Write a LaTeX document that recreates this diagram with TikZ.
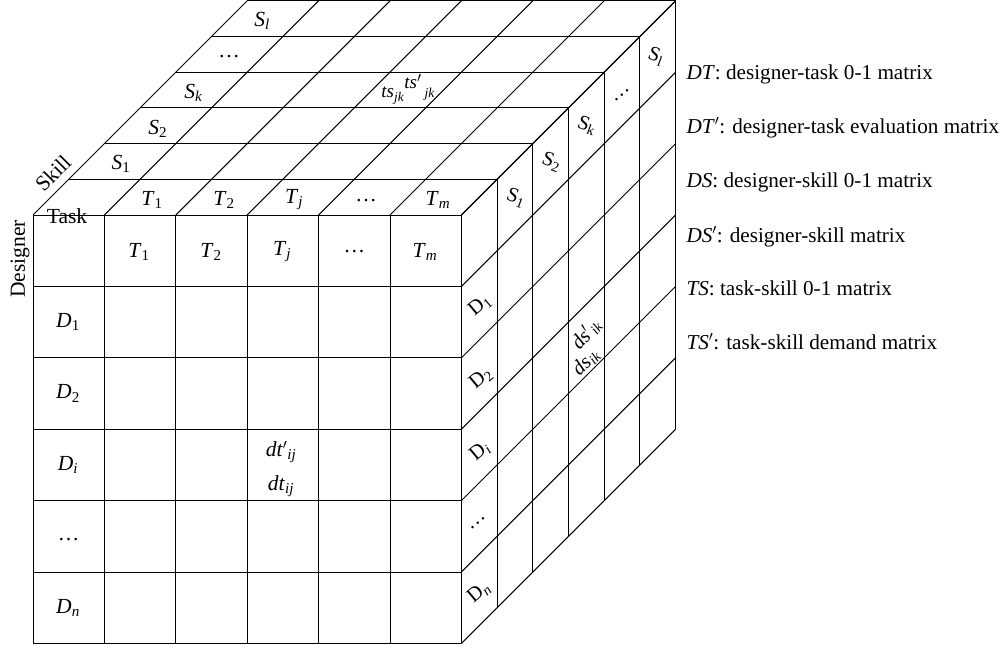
\documentclass[tikz,border=0pt]{standalone}
\usepackage{fontspec}
\setmainfont{Liberation Serif}
\newcommand\sub[1]{\textsubscript{#1}}
\begin{document}
\begin{tikzpicture}[x=1pt,y=-1pt,line width=1pt,
  lbl/.style={font=\fontsize{21.5}{25}\selectfont,inner sep=0pt},
  slbl/.style={font=\fontsize{20.5}{24}\selectfont,inner sep=0pt},
  leg/.style={font=\fontsize{21.2}{25}\selectfont,inner sep=0pt,anchor=base west}]
\useasboundingbox (0,0) rectangle (1007,648);
\pgfmathsetmacro\cellw{71.4}
\pgfmathsetmacro\depw{35.7}
% grid lines of the cube
\foreach \i in {0,...,6}{
  \draw (33+\i*\cellw,215) -- (33+\i*\cellw,643.4);
  \draw (33,215+\i*\cellw) -- (461.4,215+\i*\cellw);
  \draw (33+\i*\depw,215-\i*\depw) -- (461.4+\i*\depw,215-\i*\depw);
  \draw (33+\i*\cellw,215) -- ++(214.2,-214.2);
  \draw (461.4+\i*\depw,215-\i*\depw) -- (461.4+\i*\depw,643.4-\i*\depw);
  \draw (461.4,215+\i*\cellw) -- ++(214.2,-214.2);
}
% axis labels
\node[lbl,rotate=90] (designer) at (20,259) {Designer};
\node[lbl,rotate=45] (skill) at (53,173) {Skill};
\node[lbl] (task) at (67,216) {Task};
% front face header
\node[lbl] (ft1) at (139,252) {\textit{T}\sub{1}};
\node[lbl] (ft2) at (211,252) {\textit{T}\sub{2}};
\node[lbl] (ftj) at (282,252) {\textit{T}\sub{\textit{j}}};
\node[lbl] (ftd) at (354.3,252) {\dots};
\node[lbl] (ftm) at (425,252) {\textit{T}\sub{\textit{m}}};
% front face rows
\node[lbl] (d1) at (68,322.1) {\textit{D}\sub{1}};
\node[lbl] (d2) at (68,393.5) {\textit{D}\sub{2}};
\node[lbl] (di) at (68,464.9) {\textit{D}\sub{\textit{i}}};
\node[lbl] (dd) at (68.7,540) {\dots};
\node[lbl] (dn) at (68,607.7) {\textit{D}\sub{\textit{n}}};
\node[lbl] (dtp) at (281,452) {\textit{dt}$'$\sub{\textit{ij}}};
\node[lbl] (dt) at (281,486) {\textit{dt}\sub{\textit{ij}}};
% top face
\node[lbl] (tt1) at (152,200) {\textit{T}\sub{1}};
\node[lbl] (tt2) at (224,200) {\textit{T}\sub{2}};
\node[lbl] (ttj) at (294,200) {\textit{T}\sub{\textit{j}}};
\node[lbl] (ttd) at (366,201) {\dots};
\node[lbl] (ttm) at (438,200) {\textit{T}\sub{\textit{m}}};
\node[lbl] (ts1) at (121,164) {\textit{S}\sub{1}};
\node[lbl] (ts2) at (157.7,129) {\textit{S}\sub{2}};
\node[lbl] (tsk) at (193.4,93) {\textit{S}\sub{\textit{k}}};
\node[lbl] (tsd) at (229,57) {\dots};
\node[lbl] (tsl) at (262,21) {\textit{S}\sub{\textit{l}}};
\node[font=\fontsize{19}{22}\selectfont,inner sep=0pt] (tsjk) at (408,89)
  {\textit{ts}\sub{\textit{jk}}\raisebox{0.5em}{\textit{ts}$'$}\,{\fontsize{13.5}{15}\selectfont\textit{jk}}};
% right face
\node[slbl,rotate=-20] (rs1) at (516,198) {S\sub{1}};
\node[slbl,rotate=-20] (rs2) at (551.5,162) {S\sub{2}};
\node[slbl,rotate=-20] (rsk) at (587,125.5) {S\sub{k}};
\node[slbl,rotate=40] (rsd) at (622,95) {\dots};
\node[slbl,rotate=-20] (rsl) at (656,56) {S\sub{l}};
\node[slbl,rotate=40] (rd1) at (480,305) {D\sub{1}};
\node[slbl,rotate=40] (rd2) at (481,378) {D\sub{2}};
\node[slbl,rotate=40] (rdi) at (480,451) {D\sub{\textit{i}}};
\node[slbl,rotate=40] (rdd) at (478,523) {\dots};
\node[slbl,rotate=40] (rdn) at (479,592) {D\sub{\textit{n}}};
\node[slbl,rotate=50] (dsp) at (586,334) {\textit{ds}$'$\sub{\textit{ik}}};
\node[slbl,rotate=45] (ds) at (586,362) {\textit{ds}\sub{\textit{ik}}};
% legend
\node[leg] (l1) at (686,79) {\textit{DT}: designer-task 0-1 matrix};
\node[leg] (l2) at (686,133.5) {\textit{DT}$'$: designer-task evaluation matrix};
\node[leg] (l3) at (686,187) {\textit{DS}: designer-skill 0-1 matrix};
\node[leg] (l4) at (686,242) {\textit{DS}$'$: designer-skill matrix};
\node[leg] (l5) at (686,295.5) {\textit{TS}: task-skill 0-1 matrix};
\node[leg] (l6) at (686,349.5) {\textit{TS}$'$: task-skill demand matrix};
\end{tikzpicture}
\end{document}
